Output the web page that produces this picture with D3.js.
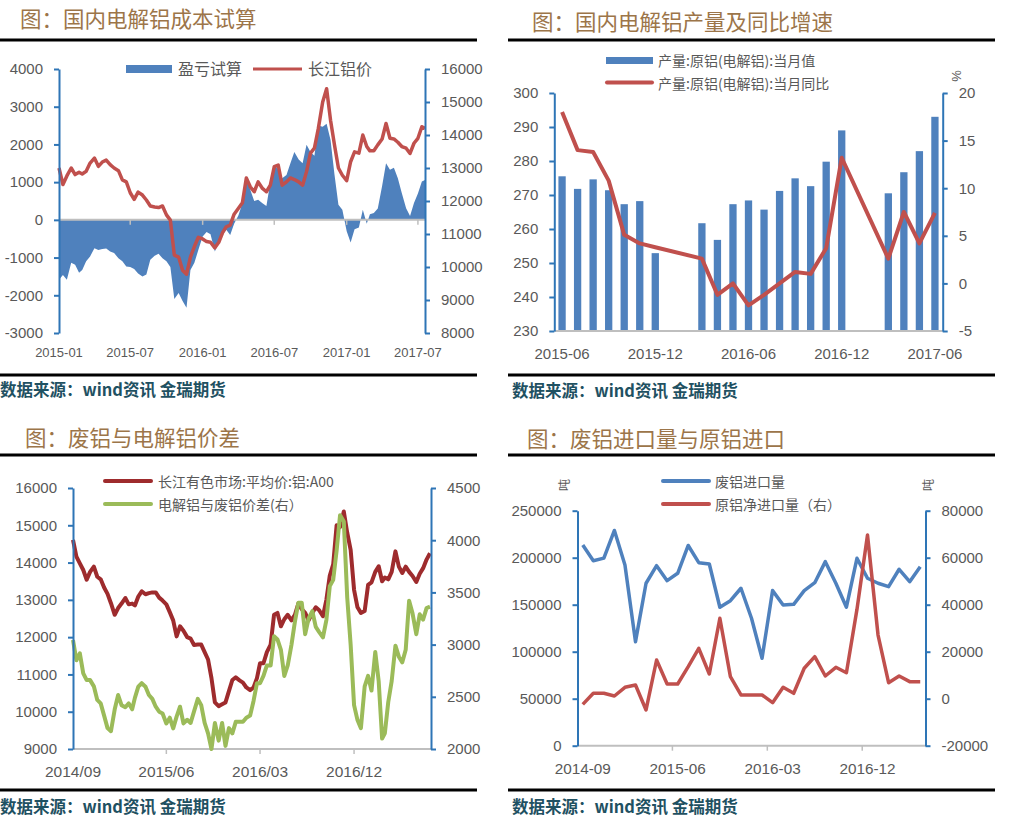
<!DOCTYPE html>
<html><head><meta charset="utf-8">
<script src="https://cdn.jsdelivr.net/npm/d3@7"></script>
<style>
body{margin:0;background:#fff}
svg{display:block}
</style>
</head><body>
<svg id="c" width="1011" height="828"></svg>
<script>
// ---------------- DATA ----------------
// Panel 1: 国内电解铝成本试算 (samples on the 1st/11th/21st of each month, 2015-01 .. 2017-07)
const p1Start = [2015, 1], p1Months = 31;
const p1Pnl = [-1590,-1460,-1590,-1140,-1190,-1400,-1330,-1100,-970,-750,
 -800,-770,-760,-840,-880,-1015,-1100,-1240,-1250,-1300,
 -1420,-1500,-1450,-1060,-950,-900,-1015,-1100,-1250,-2100,
 -1940,-2150,-2330,-1330,-1140,-800,-440,-320,-380,-840,
 -600,-400,-265,-400,-100,120,440,1100,800,500,
 530,440,370,1000,1450,1350,1100,1190,1500,1800,
 1600,1500,1990,1800,1700,2500,2470,2550,2120,1200,
 400,265,-300,-600,-250,-200,265,-100,150,180,
 300,900,1500,1330,1380,1100,710,310,100,450,
 700,1020,1060];
const p1Price = [13000,12500,12760,13000,12800,12870,12820,12900,13150,13300,
 13050,13180,13240,13100,13000,12920,12640,12580,12250,12050,
 12270,12180,12030,11850,11820,11800,11850,11580,11420,10360,
 10300,9900,9780,10300,10620,10900,10850,10770,10750,10580,
 10750,11050,11220,11270,11600,11780,11950,12700,12430,12280,
 12580,12380,12280,12480,13040,13090,12480,12580,12700,12650,
 12580,12480,12890,13450,13600,14200,15000,15400,14450,13700,
 13000,12780,12620,13190,13490,13450,14000,13650,13520,13520,
 13700,13880,14350,13900,13880,13780,13650,13600,13440,13750,
 13900,14250,14200];
const p1Ticks = ["2015-01","2015-07","2016-01","2016-07","2017-01","2017-07"];
const p1LeftTicks = [-3000,-2000,-1000,0,1000,2000,3000,4000];
const p1RightTicks = [8000,9000,10000,11000,12000,13000,14000,15000,16000];

// Panel 2: 国内电解铝产量及同比增速 (monthly 2015-06 .. 2017-06)
const p2Months = ["2015-06","2015-07","2015-08","2015-09","2015-10","2015-11","2015-12",
 "2016-01","2016-02","2016-03","2016-04","2016-05","2016-06","2016-07","2016-08","2016-09","2016-10","2016-11","2016-12",
 "2017-01","2017-02","2017-03","2017-04","2017-05","2017-06"];
const p2Output = [275.5,271.8,274.6,271.4,267.3,268.2,252.9,null,null,261.7,256.8,267.3,268.4,265.7,271.2,274.9,272.6,279.8,289.0,null,null,270.5,276.7,282.9,293.0];
const p2Yoy = [18.0,14.0,13.8,10.8,5.1,4.2,3.8,null,null,2.6,-1.2,0.0,-2.3,-1.2,0.0,1.2,1.0,3.7,13.2,null,null,2.6,7.5,4.2,7.4];
const p2Labels = ["2015-06","2015-12","2016-06","2016-12","2017-06"];
const p2LeftTicks = [230,240,250,260,270,280,290,300];
const p2RightTicks = [-5,0,5,10,15,20];

// Panel 3: 废铝与电解铝价差 (samples on the 1st/11th/21st of each month, 2014-09 .. 2017-07)
const p3Start = [2014, 9], p3Months = 35;
const p3Price = [14610,14160,13980,13800,13540,13750,13890,13620,13550,13330,
 13160,12910,12600,12780,12900,13050,12880,12900,12850,13090,
 13230,13150,13180,13200,13200,13060,12980,12880,12670,12450,
 12020,12290,12170,12000,11960,11790,11800,11800,11600,11400,
 10900,10250,10150,10200,10250,10550,10850,10920,10840,10780,
 10650,10580,10650,10900,11300,11300,11600,11800,12600,12650,
 12290,12480,12600,12450,12600,12900,12750,12650,12450,12650,
 12800,12720,12560,13000,13650,13950,15000,14950,15370,14800,
 14340,13270,12800,12650,12700,13400,13470,13750,13900,13500,
 13600,13550,13750,14300,13890,13720,13890,13750,13640,13480,
 13700,13850,14080,14250];
const p3Spread = [3044,2850,2916,2725,2660,2660,2600,2470,2437,2320,
 2200,2170,2380,2517,2420,2400,2437,2380,2490,2597,
 2630,2597,2517,2480,2405,2357,2340,2245,2300,2198,
 2310,2405,2245,2280,2250,2360,2480,2420,2250,2150,
 2000,2250,2080,2250,2030,2200,2150,2260,2260,2260,
 2300,2320,2460,2630,2630,2700,2800,2800,3080,3050,
 2950,2700,2800,3000,3220,3400,3400,3100,3250,3320,
 3170,3120,3070,3235,3560,3620,3900,4240,4180,3450,
 3000,2420,2277,2200,2600,2700,2560,2930,2650,2100,
 2150,2450,2650,2990,2884,2830,2950,3420,3300,3100,
 3290,3240,3350,3363];
const p3Ticks = ["2014-09","2015-06","2016-03","2016-12"];
const p3LeftTicks = [9000,10000,11000,12000,13000,14000,15000,16000];
const p3RightTicks = [2000,2500,3000,3500,4000,4500];

// Panel 4: 废铝进口量与原铝进口 (monthly 2014-09 .. 2017-05)
const p4Start = [2014, 9], p4Count = 33;
const p4Scrap = [213500,196800,199500,229000,192300,110700,172800,191500,175600,183400,
 213000,194700,193300,147300,154300,167500,135600,93000,165000,149700,
 150400,165000,173400,195800,172800,147300,199400,178100,172800,169200,
 187700,174500,190500];
const p4NetImport = [-2400,2300,2300,1150,4860,5840,-4800,16470,6260,6260,
 13620,21450,10520,34220,9370,1580,1580,1580,-1700,4860,
 2300,12940,17880,9660,13360,11070,38000,69660,27100,6800,
 9660,7250,7250];
const p4Labels = ["2014-09","2015-06","2016-03","2016-12"];
const p4LeftTicks = [0,50000,100000,150000,200000,250000];
const p4RightTicks = [-20000,0,20000,40000,60000,80000];

// ---------------- HELPERS ----------------
const svg = d3.select("#c");
const NUM = "'Liberation Sans', Arial, sans-serif";
const CJK = "'Noto Sans CJK SC', 'Noto Sans', sans-serif";
const AX = "#2e75b6", TXT = "#595959", BASE = "#bfbfbf";
const BLUE = "#4f81bd", RED = "#c0504d", DRED = "#9e2b2d", GREEN = "#9bbb59";
const TITLE = "#9c7549", SRC = "#1f5162";
const parseM = d3.timeParse("%Y-%m");

function gridDates(start, months){
  const out = [];
  for (let k = 0; k < months; k++) for (const d of [1, 11, 21]) out.push(new Date(start[0], start[1] - 1 + k, d));
  return out;
}
function yAxis(scale, x, side, ticks){
  const ax = (side === "left" ? d3.axisLeft(scale) : d3.axisRight(scale))
    .tickValues(ticks).tickSize(5).tickSizeOuter(0).tickPadding(11).tickFormat(d => String(d));
  const g = svg.append("g").attr("transform", `translate(${x},0)`).call(ax);
  g.select(".domain").attr("stroke", AX).attr("stroke-width", 2);
  g.selectAll(".tick line").attr("stroke", AX).attr("stroke-width", 2);
  g.selectAll(".tick text").attr("fill", TXT).style("font-family", NUM).style("font-size", "15px");
  return g;
}
function frame(x0, x1, yTop, yBot, title, tx, ty, sx, sy){
  svg.append("text").attr("x", tx).attr("y", ty).text(title)
    .style("font-family", CJK).style("font-size", "21.5px").attr("fill", TITLE);
  svg.append("line").attr("x1", x0).attr("x2", x1).attr("y1", yTop).attr("y2", yTop).attr("stroke", "#000").attr("stroke-width", 3);
  svg.append("line").attr("x1", x0).attr("x2", x1).attr("y1", yBot).attr("y2", yBot).attr("stroke", "#000").attr("stroke-width", 3);
  svg.append("text").attr("x", sx).attr("y", sy).text("数据来源：wind资讯 金瑞期货")
    .style("font-family", CJK).style("font-size", "16.5px").style("font-weight", "bold").attr("fill", SRC);
}
function legendText(x, y, t, fs){
  svg.append("text").attr("x", x).attr("y", y).text(t).attr("fill", TXT)
    .style("font-family", CJK).style("font-size", fs + "px");
}

// ---------------- PANEL 1 ----------------
(function(){
  frame(0, 477, 40, 375, "图：国内电解铝成本试算", 20, 27, 0, 396);
  const dates = gridDates(p1Start, p1Months);
  const end = new Date(2017, 6, 19);
  const data = dates.map((d, i) => ({d: d > end ? end : d, pnl: p1Pnl[i], price: p1Price[i]}));
  const x = d3.scaleTime().domain([new Date(2015,0,1), end]).range([59, 425]);
  const yL = d3.scaleLinear().domain([-3000, 4000]).range([333, 69]);
  const yR = d3.scaleLinear().domain([8000, 16000]).range([333, 69]);
  svg.append("path").datum(data).attr("fill", BLUE)
    .attr("d", d3.area().x(d => x(d.d)).y0(yL(0)).y1(d => yL(d.pnl)));
  svg.append("line").attr("x1", 59).attr("x2", 425).attr("y1", yL(0)).attr("y2", yL(0)).attr("stroke", BASE).attr("stroke-width", 2);
  p1Ticks.forEach(t => {
    const xx = x(parseM(t));
    if (t !== "2015-01") svg.append("line").attr("x1", xx).attr("x2", xx).attr("y1", yL(0)).attr("y2", yL(0) + 5).attr("stroke", BASE).attr("stroke-width", 1.5);
    svg.append("text").attr("x", xx).attr("y", 357).attr("text-anchor", "middle").text(t)
      .attr("fill", TXT).style("font-family", NUM).style("font-size", "13px");
  });
  svg.append("path").datum(data).attr("fill", "none").attr("stroke", RED).attr("stroke-width", 3.5).attr("stroke-linejoin", "round")
    .attr("d", d3.line().x(d => x(d.d)).y(d => yR(d.price)));
  yAxis(yL, 59, "left", p1LeftTicks);
  yAxis(yR, 425, "right", p1RightTicks);
  svg.append("rect").attr("x", 126).attr("y", 65).attr("width", 46).attr("height", 8).attr("fill", BLUE);
  legendText(178, 75, "盈亏试算", 16);
  svg.append("line").attr("x1", 253).attr("x2", 302).attr("y1", 69).attr("y2", 69).attr("stroke", RED).attr("stroke-width", 3);
  legendText(308, 75, "长江铝价", 16);
})();

// ---------------- PANEL 2 ----------------
(function(){
  frame(508, 995, 40, 375, "图：国内电解铝产量及同比增速", 532, 30, 512, 397);
  const p = 0.53;
  const x = d3.scaleBand().domain(p2Months).range([554.3, 942.7]).paddingInner(p).paddingOuter(p / 2);
  const yL = d3.scaleLinear().domain([230, 300]).range([331, 93]);
  const yR = d3.scaleLinear().domain([-5, 20]).range([331, 93]);
  const bars = p2Months.map((m, i) => ({m, v: p2Output[i]})).filter(d => d.v != null);
  svg.append("g").selectAll("rect").data(bars).join("rect")
    .attr("x", d => x(d.m)).attr("width", x.bandwidth())
    .attr("y", d => yL(d.v)).attr("height", d => yL(230) - yL(d.v)).attr("fill", BLUE);
  svg.append("line").attr("x1", 554.3).attr("x2", 942.7).attr("y1", 331).attr("y2", 331).attr("stroke", BASE).attr("stroke-width", 2);
  p2Labels.forEach(t => {
    svg.append("text").attr("x", x(t) + x.bandwidth() / 2).attr("y", 359).attr("text-anchor", "middle").text(t)
      .attr("fill", TXT).style("font-family", NUM).style("font-size", "15px");
  });
  const line = p2Months.map((m, i) => ({m, v: p2Yoy[i]})).filter(d => d.v != null);
  svg.append("path").datum(line).attr("fill", "none").attr("stroke", RED).attr("stroke-width", 4).attr("stroke-linejoin", "round")
    .attr("d", d3.line().x(d => x(d.m) + x.bandwidth() / 2).y(d => yR(d.v)));
  yAxis(yL, 554.3, "left", p2LeftTicks);
  yAxis(yR, 942.7, "right", p2RightTicks);
  svg.append("text").attr("transform", "translate(961,76) rotate(-90)").attr("text-anchor", "middle").text("%")
    .attr("fill", TXT).style("font-family", NUM).style("font-size", "13px");
  svg.append("rect").attr("x", 606).attr("y", 57).attr("width", 47).attr("height", 7).attr("fill", BLUE);
  legendText(658, 66, "产量:原铝(电解铝):当月值", 14);
  svg.append("line").attr("x1", 607).attr("x2", 652).attr("y1", 82.5).attr("y2", 82.5).attr("stroke", RED).attr("stroke-width", 4).attr("stroke-linecap", "round");
  legendText(658, 89, "产量:原铝(电解铝):当月同比", 14);
})();

// ---------------- PANEL 3 ----------------
(function(){
  frame(0, 477, 455, 790, "图：废铝与电解铝价差", 25, 446, 0, 813);
  const dates = gridDates(p3Start, p3Months);
  const data = p3Price.map((v, i) => ({d: dates[i], price: v, spread: p3Spread[i]}));
  const x = d3.scaleTime().domain([new Date(2014,8,1), new Date(2017,6,14)]).range([73, 431]);
  const yL = d3.scaleLinear().domain([9000, 16000]).range([749, 488]);
  const yR = d3.scaleLinear().domain([2000, 4500]).range([749, 488]);
  svg.append("line").attr("x1", 73).attr("x2", 431).attr("y1", 749).attr("y2", 749).attr("stroke", BASE).attr("stroke-width", 2);
  p3Ticks.forEach(t => {
    const xx = x(parseM(t));
    if (t !== "2014-09") svg.append("line").attr("x1", xx).attr("x2", xx).attr("y1", 749).attr("y2", 754).attr("stroke", BASE).attr("stroke-width", 1.5);
    svg.append("text").attr("x", xx).attr("y", 777).attr("text-anchor", "middle").text(t.replace("-", "/"))
      .attr("fill", TXT).style("font-family", NUM).style("font-size", "15.5px");
  });
  svg.append("path").datum(data).attr("fill", "none").attr("stroke", DRED).attr("stroke-width", 4).attr("stroke-linejoin", "round")
    .attr("d", d3.line().x(d => x(d.d)).y(d => yL(d.price)));
  svg.append("path").datum(data).attr("fill", "none").attr("stroke", GREEN).attr("stroke-width", 4).attr("stroke-linejoin", "round")
    .attr("d", d3.line().x(d => x(d.d)).y(d => yR(d.spread)));
  yAxis(yL, 73, "left", p3LeftTicks);
  yAxis(yR, 431, "right", p3RightTicks);
  svg.append("line").attr("x1", 105).attr("x2", 151).attr("y1", 481).attr("y2", 481).attr("stroke", DRED).attr("stroke-width", 4).attr("stroke-linecap", "round");
  legendText(158, 487, "长江有色市场:平均价:铝:A00", 14);
  svg.append("line").attr("x1", 105).attr("x2", 151).attr("y1", 504).attr("y2", 504).attr("stroke", GREEN).attr("stroke-width", 4).attr("stroke-linecap", "round");
  legendText(158, 510, "电解铝与废铝价差(右）", 14);
})();

// ---------------- PANEL 4 ----------------
(function(){
  frame(508, 995, 455, 790, "图：废铝进口量与原铝进口", 527, 447, 512, 813);
  const months = d3.timeMonth.range(new Date(p4Start[0], p4Start[1] - 1, 1), new Date(p4Start[0], p4Start[1] - 1 + p4Count, 1)).map(d3.timeFormat("%Y-%m"));
  const x = d3.scaleBand().domain(months).range([577.5, 925.5]);
  const cx = m => x(m) + x.bandwidth() / 2;
  const yL = d3.scaleLinear().domain([0, 250000]).range([745.7, 510.7]);
  const yR = d3.scaleLinear().domain([-20000, 80000]).range([745.7, 510.7]);
  svg.append("line").attr("x1", 577.5).attr("x2", 925.5).attr("y1", 745.7).attr("y2", 745.7).attr("stroke", BASE).attr("stroke-width", 2);
  p4Labels.forEach(t => {
    const xx = x(t);
    if (t !== "2014-09") svg.append("line").attr("x1", xx).attr("x2", xx).attr("y1", 745.7).attr("y2", 750.7).attr("stroke", BASE).attr("stroke-width", 1.5);
    svg.append("text").attr("x", cx(t)).attr("y", 774).attr("text-anchor", "middle").text(t)
      .attr("fill", TXT).style("font-family", NUM).style("font-size", "15.3px");
  });
  const data = months.map((m, i) => ({m, a: p4Scrap[i], b: p4NetImport[i]}));
  svg.append("path").datum(data).attr("fill", "none").attr("stroke", BLUE).attr("stroke-width", 3.5).attr("stroke-linejoin", "round")
    .attr("d", d3.line().x(d => cx(d.m)).y(d => yL(d.a)));
  svg.append("path").datum(data).attr("fill", "none").attr("stroke", RED).attr("stroke-width", 3.5).attr("stroke-linejoin", "round")
    .attr("d", d3.line().x(d => cx(d.m)).y(d => yR(d.b)));
  yAxis(yL, 577.5, "left", p4LeftTicks);
  yAxis(yR, 925.5, "right", p4RightTicks);
  [[569, 485], [933, 485]].forEach(([tx, ty]) => {
    svg.append("text").attr("transform", `translate(${tx},${ty}) rotate(-90)`).attr("text-anchor", "middle").text("吨")
      .attr("fill", TXT).style("font-family", CJK).style("font-size", "12px");
  });
  svg.append("line").attr("x1", 663).attr("x2", 709).attr("y1", 481).attr("y2", 481).attr("stroke", BLUE).attr("stroke-width", 4).attr("stroke-linecap", "round");
  legendText(715, 487, "废铝进口量", 14);
  svg.append("line").attr("x1", 663).attr("x2", 709).attr("y1", 504).attr("y2", 504).attr("stroke", RED).attr("stroke-width", 4).attr("stroke-linecap", "round");
  legendText(715, 510, "原铝净进口量（右）", 14);
})();
</script>
</body></html>
